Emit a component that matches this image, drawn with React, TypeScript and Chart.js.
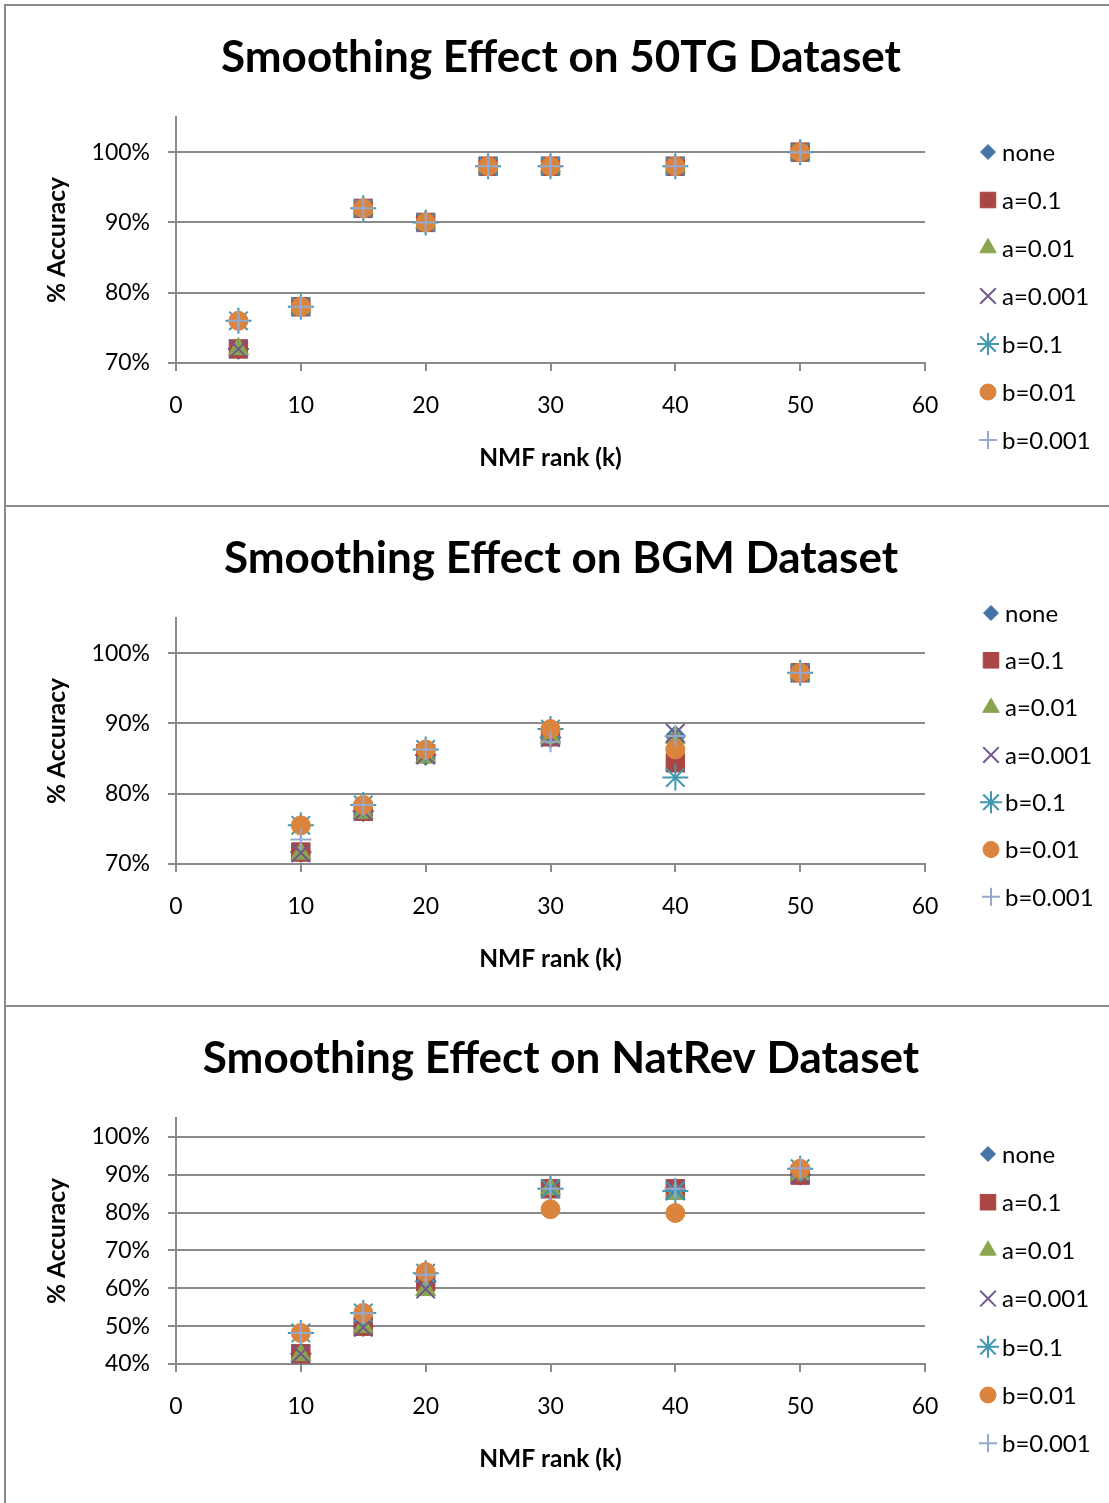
import React, { useEffect, useRef } from 'react';
import { Chart, registerables } from 'chart.js';
import { drawPoint } from 'chart.js/helpers';

Chart.register(...registerables);

// ---------- shared series definitions ----------
const seriesNames = ['none', 'a=0.1', 'a=0.01', 'a=0.001', 'b=0.1', 'b=0.01', 'b=0.001'];
const seriesColors = ['#4572A7', '#AA4643', '#89A54E', '#71588F', '#4198AF', '#DB843D', '#93A9CF'];
const seriesStyles = ['rectRot', 'rect', 'triangle', 'crossRot', 'star', 'circle', 'cross'];
const xTicks = [0, 10, 20, 30, 40, 50, 60];

// ---------- 50TG dataset ----------
const tgTitle = 'Smoothing Effect on 50TG Dataset';
const tgRanks = [5, 10, 15, 20, 25, 30, 40, 50];
const tgNone = [72, 78, 92, 90, 98, 98, 98, 100];
const tgA1 = [72, 78, 92, 90, 98, 98, 98, 100];
const tgA01 = [72, 78, 92, 90, 98, 98, 98, 100];
const tgA001 = [72, 78, 92, 90, 98, 98, 98, 100];
const tgB1 = [76, 78, 92, 90, 98, 98, 98, 100];
const tgB01 = [76, 78, 92, 90, 98, 98, 98, 100];
const tgB001 = [76, 78, 92, 90, 98, 98, 98, 100];
const tgYTicks = [70, 80, 90, 100];

// ---------- BGM dataset ----------
const bgmTitle = 'Smoothing Effect on BGM Dataset';
const bgmRanks = [10, 15, 20, 30, 40, 50];
const bgmNone = [71.7, 77.5, 85.5, 88.0, 88.2, 97.2];
const bgmA1 = [71.7, 77.5, 85.7, 88.1, 84.4, 97.2];
const bgmA01 = [71.5, 77.3, 85.2, 88.0, 88.0, 97.2];
const bgmA001 = [71.6, 77.5, 85.5, 88.0, 88.6, 97.2];
const bgmB1 = [75.5, 78.4, 86.3, 89.2, 82.3, 97.2];
const bgmB01 = [75.5, 78.4, 86.3, 89.2, 86.3, 97.2];
const bgmB001 = [73.5, 78.4, 86.3, 87.4, 88.2, 97.2];
const bgmYTicks = [70, 80, 90, 100];

// ---------- NatRev dataset ----------
const natTitle = 'Smoothing Effect on NatRev Dataset';
const natRanks = [10, 15, 20, 30, 40, 50];
const natNone = [42.7, 50.0, 61.8, 86.3, 86.3, 90.0];
const natA1 = [42.7, 50.0, 61.7, 86.3, 86.3, 89.9];
const natA01 = [42.4, 49.8, 59.6, 86.3, 85.0, 90.2];
const natA001 = [42.7, 49.7, 59.8, 86.3, 86.0, 90.0];
const natB1 = [48.2, 53.5, 64.0, 86.3, 85.7, 91.6];
const natB01 = [48.2, 53.5, 64.3, 80.9, 79.9, 91.6];
const natB001 = [48.2, 53.4, 63.6, 86.3, 86.3, 91.7];
const natYTicks = [40, 50, 60, 70, 80, 90, 100];

const FONT = 'Lato';
const AXIS_GRAY = '#8a8a8a';

const pointRadius = [10.5, 13, 11.5, 13, 13, 9.5, 10.5];
const pointBorder = [1, 1, 1, 2, 2, 1, 2];
const legendRadius = [7.5, 11, 9.5, 11, 11, 8, 9];

const sideLegend = {
  id: 'sideLegend',
  afterDraw(chart: any, _args: any, opts: any) {
    const { ctx } = chart;
    ctx.save();
    chart.data.datasets.forEach((ds: any, i: number) => {
      const y = opts.top + i * opts.gap;
      ctx.fillStyle = ds.backgroundColor;
      ctx.strokeStyle = ds.borderColor;
      ctx.lineWidth = pointBorder[i];
      drawPoint(
        ctx,
        { pointStyle: ds.pointStyle, radius: legendRadius[i], rotation: 0, borderWidth: pointBorder[i] } as any,
        opts.markerX,
        y
      );
      ctx.fillStyle = '#000';
      ctx.font = `24px ${FONT}`;
      ctx.textAlign = 'left';
      ctx.textBaseline = 'middle';
      ctx.fillText(ds.label, opts.textX, y + 1);
    });
    ctx.restore();
  },
};

function makeDatasets(ranks: number[], series: number[][]) {
  return series.map((vals, i) => ({
    label: seriesNames[i],
    data: ranks.map((r, j) => ({ x: r, y: vals[j] })),
    pointStyle: seriesStyles[i],
    pointRadius: pointRadius[i],
    pointHoverRadius: pointRadius[i],
    pointBorderWidth: pointBorder[i],
    backgroundColor: seriesColors[i],
    borderColor: seriesColors[i],
    showLine: false,
    order: series.length - i,
  }));
}

type PanelProps = {
  title: string;
  ranks: number[];
  series: number[][];
  yTicks: number[];
  yMin: number;
  yMax: number;
  top: number;
  legend: { top: number; gap: number; markerX: number; textX: number };
};

function ScatterPanel(p: PanelProps) {
  const ref = useRef<HTMLCanvasElement>(null);
  useEffect(() => {
    if (!ref.current) return;
    const chart = new Chart(ref.current, {
      type: 'scatter',
      data: { datasets: makeDatasets(p.ranks, p.series) as any },
      plugins: [sideLegend as any],
      options: {
        responsive: false,
        animation: false,
        events: [],
        layout: { padding: { left: 13, right: 0, top: 0, bottom: 0 } },
        plugins: {
          legend: { display: false },
          tooltip: { enabled: false },
          title: {
            display: true,
            text: p.title,
            color: '#000',
            font: { family: FONT, size: 44, weight: 'bold', lineHeight: 1.2 },
            padding: { top: 25, bottom: 33.2 },
          },
          sideLegend: p.legend,
        } as any,
        scales: {
          x: {
            type: 'linear',
            min: 0,
            max: 60,
            afterBuildTicks: (axis: any) => {
              axis.ticks = xTicks.map((v) => ({ value: v }));
            },
            afterFit: (s: any) => {
              s.height = 142;
            },
            ticks: {
              color: '#000',
              font: { family: FONT, size: 23 },
              padding: 21,
              maxRotation: 0,
            },
            grid: { drawOnChartArea: false, drawTicks: true, tickLength: 8, color: AXIS_GRAY, lineWidth: 2 },
            border: { display: true, color: AXIS_GRAY, width: 2 },
            title: {
              display: true,
              text: 'NMF rank (k)',
              color: '#000',
              font: { family: FONT, size: 24.5, weight: 'bold', lineHeight: 1.2 },
              padding: { top: 0, bottom: 32 },
            },
          },
          y: {
            type: 'linear',
            min: p.yMin,
            max: p.yMax,
            afterBuildTicks: (axis: any) => {
              axis.ticks = p.yTicks.map((v) => ({ value: v }));
            },
            afterFit: (s: any) => {
              s.width = 163;
            },
            ticks: {
              color: '#000',
              font: { family: FONT, size: 23 },
              padding: 18,
              callback: (v: any) => `${v}%`,
            },
            grid: { drawOnChartArea: true, drawTicks: true, tickLength: 8, color: AXIS_GRAY, lineWidth: 2 },
            border: { display: true, color: AXIS_GRAY, width: 2 },
            title: {
              display: true,
              text: '% Accuracy',
              color: '#000',
              font: { family: FONT, size: 24.5, weight: 'bold', lineHeight: 1.2 },
              padding: { top: 29, bottom: 0 },
            },
          },
          yR: {
            type: 'linear',
            position: 'right',
            display: true,
            afterFit: (s: any) => {
              s.width = 184;
            },
            ticks: { display: false },
            grid: { display: false },
            border: { display: false },
          },
        } as any,
      },
    });
    return () => chart.destroy();
  }, []);
  return (
    <div style={{ position: 'absolute', left: 0, top: p.top, width: 1109, height: 499 }}>
      <canvas ref={ref} width={1109} height={499} style={{ display: 'block' }} />
    </div>
  );
}

export default function App() {
  return (
    <div
      style={{
        position: 'absolute',
        left: 0,
        top: 0,
        width: 1109,
        height: 1503,
        overflow: 'hidden',
        background: '#fff',
      }}
    >
      <ScatterPanel
        title={tgTitle}
        ranks={tgRanks}
        series={[tgNone, tgA1, tgA01, tgA001, tgB1, tgB01, tgB001]}
        yTicks={tgYTicks}
        yMin={70}
        yMax={105}
        top={6}
        legend={{ top: 146, gap: 48, markerX: 988, textX: 1002 }}
      />
      <ScatterPanel
        title={bgmTitle}
        ranks={bgmRanks}
        series={[bgmNone, bgmA1, bgmA01, bgmA001, bgmB1, bgmB01, bgmB001]}
        yTicks={bgmYTicks}
        yMin={70}
        yMax={105}
        top={507}
        legend={{ top: 106, gap: 47.3, markerX: 991, textX: 1005 }}
      />
      <ScatterPanel
        title={natTitle}
        ranks={natRanks}
        series={[natNone, natA1, natA01, natA001, natB1, natB01, natB001]}
        yTicks={natYTicks}
        yMin={40}
        yMax={105}
        top={1007}
        legend={{ top: 147, gap: 48.2, markerX: 988, textX: 1002 }}
      />
      {/* panel borders */}
      <div style={{ position: 'absolute', left: 4, top: 4, width: 1200, height: 2, background: AXIS_GRAY }} />
      <div style={{ position: 'absolute', left: 4, top: 4, width: 2, height: 1600, background: AXIS_GRAY }} />
      <div style={{ position: 'absolute', left: 4, top: 505, width: 1200, height: 2, background: AXIS_GRAY }} />
      <div style={{ position: 'absolute', left: 4, top: 1005, width: 1200, height: 2, background: AXIS_GRAY }} />
    </div>
  );
}
